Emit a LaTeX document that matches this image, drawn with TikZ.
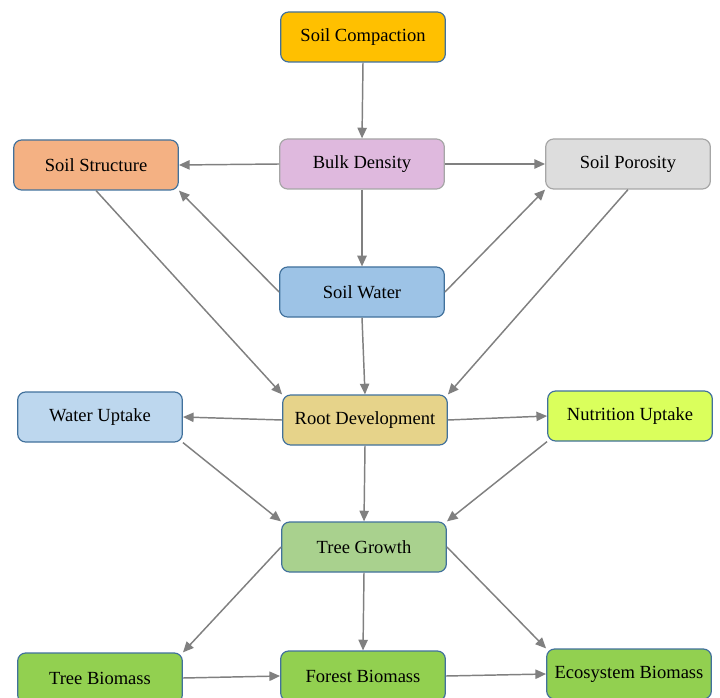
\documentclass[tikz,border=0pt]{standalone}
\usepackage{fontspec}
\setmainfont{Liberation Serif}
\usetikzlibrary{arrows.meta}
\definecolor{bordblue}{HTML}{41719C}
\definecolor{bordgray}{HTML}{A6A6A6}
\definecolor{arrgray}{HTML}{808080}
\definecolor{cCompact}{HTML}{FFC000}
\definecolor{cBulk}{HTML}{DFB9DE}
\definecolor{cStruct}{HTML}{F4B183}
\definecolor{cPoros}{HTML}{DDDDDD}
\definecolor{cWater}{HTML}{9DC3E6}
\definecolor{cUptake}{HTML}{BDD7EE}
\definecolor{cRoot}{HTML}{E6D38A}
\definecolor{cNutri}{HTML}{DAFF5C}
\definecolor{cGrowth}{HTML}{A9D18E}
\definecolor{cBio}{HTML}{92D050}
\tikzset{
  box/.style={draw=bordblue, line width=0.9pt, rounded corners=6pt,
    minimum width=123.5pt, minimum height=37.5pt, inner sep=0pt,
    font=\fontsize{13.9pt}{16pt}\selectfont, text=black},
  graybox/.style={box, draw=bordgray},
  arr/.style={draw=arrgray, line width=1.1pt, -{Triangle[length=8pt,width=7pt]}}
}
\begin{document}
\begin{tikzpicture}[x=0.75pt,y=-0.75pt]
\useasboundingbox (0,0) rectangle (720,698);
\fill[white] (0,0) rectangle (720,698);
\node[box, fill=cCompact] (sc) at (363,37) {Soil Compaction};
\node[graybox, fill=cBulk] (bd) at (362,164) {Bulk Density};
\node[box, fill=cStruct] (ss) at (96,165) {Soil Structure};
\node[graybox, fill=cPoros] (sp) at (628,164) {Soil Porosity};
\node[box, fill=cWater] (sw) at (362,292) {Soil Water};
\node[box, fill=cUptake] (wu) at (100,417) {Water Uptake};
\node[box, fill=cRoot] (rd) at (365,420) {Root Development};
\node[box, fill=cNutri] (nu) at (630,416) {Nutrition Uptake};
\node[box, fill=cGrowth] (tg) at (364,547) {Tree Growth};
\node[box, fill=cBio] (tb) at (100,678) {Tree Biomass};
\node[box, fill=cBio] (fb) at (363,676) {Forest Biomass};
\node[box, fill=cBio] (eb) at (629,674) {Ecosystem Biomass};

\draw[arr] (sc.south) -- (bd.north);
\draw[arr] (bd.west) -- (ss.east);
\draw[arr] (bd.east) -- (sp.west);
\draw[arr] (bd.south) -- (sw.north);
\draw[arr] (sw.west) -- (ss.south east);
\draw[arr] (sw.east) -- (sp.south west);
\draw[arr] (ss.south) -- (rd.north west);
\draw[arr] (sp.south) -- (rd.north east);
\draw[arr] (sw.south) -- (rd.north);
\draw[arr] (rd.west) -- (wu.east);
\draw[arr] (rd.east) -- (nu.west);
\draw[arr] (rd.south) -- (tg.north);
\draw[arr] (wu.south east) -- (tg.north west);
\draw[arr] (nu.south west) -- (tg.north east);
\draw[arr] (tg.west) -- (tb.north east);
\draw[arr] (tg.south) -- (fb.north);
\draw[arr] (tg.east) -- (eb.north west);
\draw[arr] (tb.east) -- (fb.west);
\draw[arr] (fb.east) -- (eb.west);
\end{tikzpicture}
\end{document}
